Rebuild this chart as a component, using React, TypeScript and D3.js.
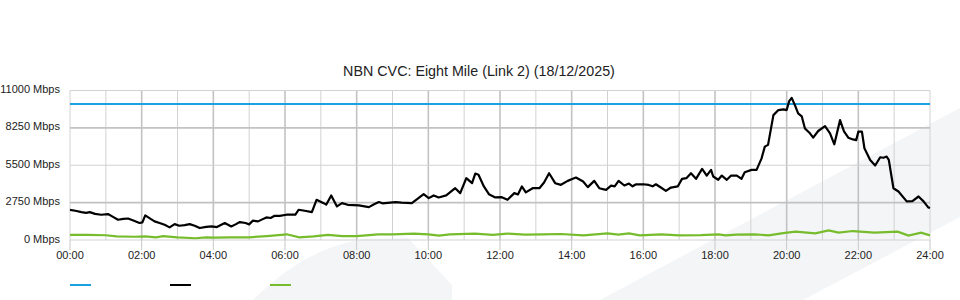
import React from "react";
import * as d3 from "d3";

const title = "NBN CVC: Eight Mile (Link 2) (18/12/2025)";
const yTicks = [0, 2750, 5500, 8250, 11000];
const xTickHours = [0, 2, 4, 6, 8, 10, 12, 14, 16, 18, 20, 22, 24];
const capacityHours = [0, 24];
const capacityValues = [10000, 10000];

const trafficHours = [0.0,0.15,0.32,0.45,0.55,0.7,0.87,1.06,1.2,1.34,1.49,1.62,1.75,1.94,2.02,2.1,2.25,2.36,2.5,2.64,2.78,2.92,3.05,3.2,3.34,3.48,3.62,3.8,3.95,4.1,4.32,4.5,4.62,4.74,4.9,5.0,5.1,5.25,5.35,5.48,5.6,5.71,5.85,6.04,6.29,6.38,6.55,6.75,6.88,7.08,7.15,7.29,7.45,7.59,7.75,8.06,8.34,8.5,8.62,8.72,9.08,9.25,9.54,9.87,10.01,10.15,10.29,10.5,10.75,10.89,11.06,11.22,11.31,11.4,11.55,11.69,11.87,12.05,12.21,12.4,12.5,12.61,12.72,12.91,13.1,13.23,13.37,13.54,13.7,13.89,14.03,14.12,14.32,14.45,14.63,14.77,14.96,15.1,15.2,15.31,15.47,15.6,15.7,15.8,16.0,16.15,16.26,16.35,16.49,16.63,16.77,16.96,17.08,17.2,17.33,17.47,17.64,17.77,17.89,17.95,18.09,18.19,18.33,18.45,18.61,18.74,18.83,19.02,19.16,19.3,19.39,19.48,19.63,19.77,19.91,20.0,20.07,20.14,20.23,20.32,20.42,20.51,20.65,20.74,20.88,21.07,21.21,21.33,21.49,21.6,21.72,21.85,21.94,22.0,22.1,22.17,22.33,22.47,22.61,22.7,22.79,22.85,22.98,23.12,23.35,23.5,23.68,23.82,23.95,24.0];
const trafficValues = [2220,2150,2050,2000,2050,1920,1860,1910,1700,1490,1560,1580,1450,1250,1300,1810,1550,1370,1250,1120,930,1170,1050,1100,1170,1050,880,960,1000,950,1250,1000,1150,1320,1250,1150,1420,1370,1500,1660,1620,1780,1780,1860,1860,2225,2150,2050,2960,2710,2600,3280,2470,2710,2590,2550,2420,2650,2790,2700,2790,2750,2710,3370,3080,3280,3130,3280,3810,3450,4550,4180,4890,4800,3940,3370,3130,3150,2960,3450,3350,3940,3500,3810,3810,4230,4910,4180,4060,4350,4500,4600,4300,3890,4350,3810,3690,4000,3950,4350,4010,4150,3950,4100,4100,4050,3950,4100,3860,3620,3860,3940,4500,4550,4910,4500,5230,4740,5160,4670,4430,4740,4430,4740,4740,4500,4990,5160,5160,6010,6870,7000,9190,9560,9610,9560,10220,10460,9920,9310,9100,8210,7850,7530,8020,8380,7850,7040,8820,8000,7530,7400,7350,7970,7970,6750,5890,5480,6090,6050,6140,5900,3810,3570,2840,2850,3200,2840,2400,2350];

const lowHours = [0.0,0.5,1.0,1.3,1.8,2.1,2.4,2.6,3.0,3.5,3.8,4.0,4.5,5.0,5.5,6.05,6.4,6.8,7.2,7.6,8.0,8.6,9.0,9.6,10.0,10.3,10.6,11.3,11.8,12.2,12.7,13.2,13.7,14.33,15.0,15.3,15.6,15.9,16.5,17.0,17.6,18.1,18.3,18.6,19.1,19.5,19.9,20.25,20.8,21.17,21.45,21.85,22.45,23.1,23.4,23.75,24.0];
const lowValues = [370,370,350,260,240,260,200,280,200,130,200,180,190,200,290,420,200,260,370,280,290,420,420,470,420,320,420,470,380,470,400,420,440,340,490,400,490,340,420,340,360,420,340,400,420,340,500,610,490,710,540,660,540,610,320,540,340];

const legendColors = ["#1ba1e2", "#000000", "#77bc2c"];

const W = 960, H = 300;
const M = { left: 70, right: 930, top: 90.5, bottom: 240 };
const FONT = "'Liberation Sans', Arial, sans-serif";

export default function App() {
  const x = d3.scaleLinear().domain([0, 24]).range([M.left, M.right]);
  const y = d3.scaleLinear().domain([0, 11000]).range([M.bottom, M.top]);
  const line = d3.line<[number, number]>().x(d => x(d[0])).y(d => y(d[1]));
  const cap = line(capacityHours.map((h, i) => [h, capacityValues[i]]));
  const traffic = line(trafficHours.map((h, i) => [h, trafficValues[i]]));
  const low = line(lowHours.map((h, i) => [h, lowValues[i]]));
  const hourGrid = d3.range(0, 25);

  return (
    <svg width={W} height={H} style={{ position: "absolute", left: 0, top: 0 }} xmlns="http://www.w3.org/2000/svg">
      <rect x={0} y={0} width={W} height={H} fill="#ffffff" />
      {/* faint watermark shapes */}
      <path d="M600,300 L960,108 L960,217 L803,300 Z" fill="#f4f5f7" />
      <path d="M253,300 C285,268 320,246 365,239 L408,238 L452,285 L452,300 Z" fill="#f4f5f7" />
      {/* vertical grid */}
      {hourGrid.map(h => (
        <line key={"v" + h} x1={x(h)} x2={x(h)} y1={M.top} y2={M.bottom}
          stroke={h % 2 === 0 && h > 0 && h < 24 ? "#c2c2c2" : "#d2d2d2"}
          strokeWidth={h % 2 === 0 && h > 0 && h < 24 ? 1.6 : 1} />
      ))}
      {/* horizontal grid */}
      {yTicks.map((v, i) => (
        <line key={"h" + v} x1={M.left} x2={M.right} y1={y(v)} y2={y(v)}
          stroke={i % 2 === 1 ? "#c2c2c2" : "#d2d2d2"} strokeWidth={i % 2 === 1 ? 1.6 : 1} />
      ))}
      {/* x ticks */}
      {xTickHours.map(h => (
        <g key={"t" + h}>
          <line x1={x(h)} x2={x(h)} y1={M.bottom} y2={M.bottom + 10} stroke="#c8c8c8" strokeWidth={1} />
          <text x={x(h)} y={M.bottom + 19} textAnchor="middle" fontFamily={FONT} fontSize={11} fill="#222">
            {String(h).padStart(2, "0") + ":00"}
          </text>
        </g>
      ))}
      {yTicks.map(v => (
        <text key={"yl" + v} x={60} y={y(v) + 2.5} textAnchor="end" fontFamily={FONT} fontSize={11} fill="#222">
          {v + " Mbps"}
        </text>
      ))}
      <text x={479} y={76} textAnchor="middle" fontFamily={FONT} fontSize={14.3} fill="#222">{title}</text>
      {/* series */}
      <path d={cap || ""} fill="none" stroke={legendColors[0]} strokeWidth={2} />
      <path d={low || ""} fill="none" stroke={legendColors[2]} strokeWidth={2.2} />
      <path d={traffic || ""} fill="none" stroke={legendColors[1]} strokeWidth={2.2} strokeLinejoin="round" />
      {/* legend */}
      {legendColors.map((c, i) => (
        <line key={"lg" + i} x1={70 + i * 100} x2={91 + i * 100} y1={285} y2={285} stroke={c} strokeWidth={2} />
      ))}
    </svg>
  );
}
